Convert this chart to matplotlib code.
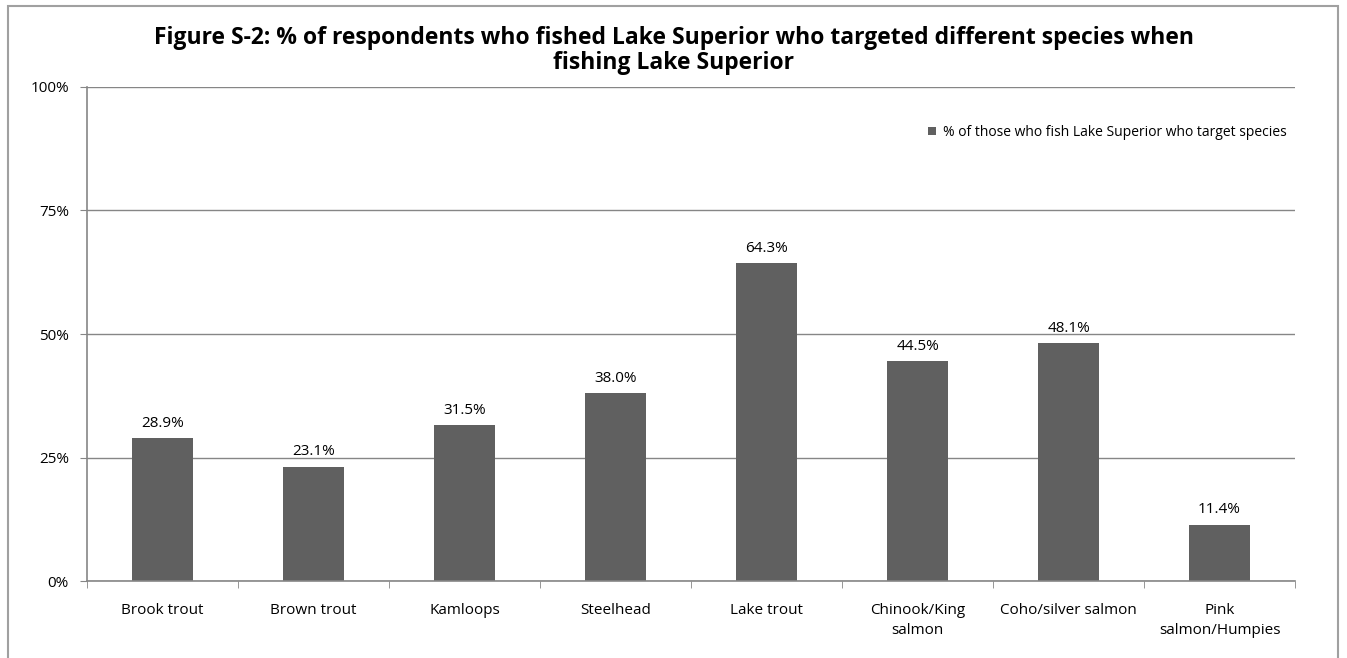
import matplotlib.pyplot as plt
from matplotlib.patches import Rectangle

especes = ["Brook trout", "Brown trout", "Kamloops", "Steelhead", "Lake trout",
           "Chinook/King\nsalmon", "Coho/silver salmon", "Pink\nsalmon/Humpies"]
pourcentages = [28.9, 23.1, 31.5, 38.0, 64.3, 44.5, 48.1, 11.4]
graduations = [0, 25, 50, 75, 100]

plt.rcParams['font.family'] = ['Open Sans', 'DejaVu Sans']
gris = '#868686'

fig = plt.figure(figsize=(13.47, 6.58), dpi=100)
ax = fig.add_axes([0.0646, 0.117, 0.8968, 0.7508])

x = range(len(especes))
bars = ax.bar(x, pourcentages, width=0.4, color='#606060', zorder=3,
              label="% of those who fish Lake Superior who target species")

for bar, v in zip(bars, pourcentages):
    ax.text(bar.get_x() + bar.get_width() / 2.0, v + 1.5, f'{v:.1f}%',
            ha='center', va='bottom', fontsize=11)

ax.set_xlim(-0.5, len(especes) - 0.5)
ax.set_ylim(0, 100)
ax.set_yticks(graduations)
ax.set_yticklabels([f'{g}%' for g in graduations], fontsize=11)
ax.set_xticks(x)
ax.set_xticklabels(especes, fontsize=11, linespacing=1.45)
ax.set_xticks([i + 0.5 for i in range(-1, len(especes))], minor=True)
ax.tick_params(axis='x', which='major', length=0, pad=16)
ax.tick_params(axis='x', which='minor', length=5, color=gris, direction='out')
ax.tick_params(axis='y', length=5, color=gris, pad=8)

ax.grid(True, axis='y', color=gris, linewidth=1, zorder=0)
for s in ['top', 'right']:
    ax.spines[s].set_visible(False)
for s in ['left', 'bottom']:
    ax.spines[s].set_color(gris)
    ax.spines[s].set_linewidth(1.2)
ax.spines['bottom'].set_zorder(4)

ax.legend(loc='upper right', bbox_to_anchor=(1.0, 0.94), frameon=False, fontsize=10,
          handlelength=0.6, handleheight=0.6, handletextpad=0.5, borderaxespad=0.2)

fig.text(0.5, 0.96, "Figure S-2: % of respondents who fished Lake Superior who targeted different species when\nfishing Lake Superior",
         ha='center', va='top', fontsize=16.5, fontweight='bold', linespacing=1.05)

# cadre autour du graphique
fig.add_artist(Rectangle((8 / 1347, -0.05), 1330 / 1347, 1.05 - 6 / 658,
                         transform=fig.transFigure, fill=False, edgecolor='#a0a0a0',
                         linewidth=1.5, clip_on=False))

fig.savefig('out.png', dpi=100)
